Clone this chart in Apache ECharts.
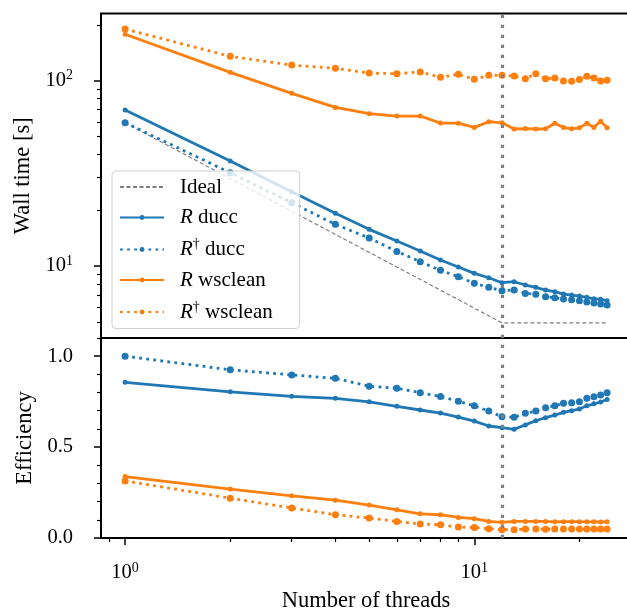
<!DOCTYPE html>
<html><head><meta charset="utf-8">
<script src="https://cdn.jsdelivr.net/npm/echarts@6/dist/echarts.min.js"></script>
<style>html,body{margin:0;padding:0;background:#fff}#c{width:627px;height:610px}</style>
</head><body><div id="c"></div>
<script>
// ---------- data ----------
const threads = [1,2,3,4,5,6,7,8,9,10,11,12,13,14,15,16,17,18,19,20,21,22,23,24];
const rDuccTime    = [69.5,36.9,25.2,19.25,15.78,13.64,12.05,10.78,9.88,9.13,8.65,8.13,8.23,7.90,7.68,7.42,7.27,7.06,6.97,6.89,6.78,6.66,6.61,6.50];
const rdagDuccTime = [59.3,31.9,21.96,16.79,14.16,12.0,10.55,9.48,8.76,8.07,7.68,7.36,7.42,7.12,7.04,6.83,6.75,6.64,6.58,6.50,6.40,6.32,6.24,6.16];
const rWscTime     = [178.1,111.0,85.5,71.8,66.4,64.5,64.5,59.1,59.0,56.0,60.1,59.3,54.9,55.2,54.9,55.0,59.0,56.0,55.0,55.7,59.0,56.0,60.4,55.7];
const rdagWscTime  = [190.1,135.4,121.5,116.7,110.0,109.1,111.4,104.3,108.3,101.8,106.9,106.9,106.0,102.5,109.1,102.5,103.4,99.6,99.4,101.4,105.6,103.4,99.6,100.5];
const idealThreads = [1,12,24];
const idealTime    = [59.3,4.94,4.94];
const rDuccEff     = [0.856,0.804,0.779,0.768,0.749,0.724,0.704,0.687,0.665,0.643,0.616,0.607,0.598,0.622,0.645,0.662,0.676,0.691,0.700,0.709,0.727,0.738,0.748,0.762];
const rdagDuccEff  = [1.0,0.925,0.897,0.878,0.835,0.824,0.799,0.778,0.752,0.727,0.698,0.667,0.664,0.686,0.698,0.716,0.727,0.741,0.744,0.749,0.768,0.777,0.786,0.799];
const rWscEff      = [0.338,0.269,0.232,0.208,0.181,0.155,0.133,0.128,0.113,0.106,0.091,0.086,0.091,0.091,0.091,0.091,0.089,0.090,0.090,0.090,0.089,0.089,0.088,0.089];
const rdagWscEff   = [0.314,0.219,0.165,0.128,0.110,0.091,0.077,0.073,0.060,0.058,0.051,0.046,0.046,0.049,0.049,0.048,0.049,0.049,0.049,0.049,0.049,0.049,0.049,0.049];
const physicalCores = 12;
const seriesNames = ['Ideal','R ducc','R\u2020 ducc','R wsclean','R\u2020 wsclean'];
const xMajorTicks = [1,10];
const xMinorTicks = [0.9,2,3,4,5,6,7,8,9,20];
const timeMajorTicks = [10,100];
const timeMinorTicks = [5,6,7,8,9,20,30,40,50,60,70,80,90,200];
const effMajorTicks = [0,0.5,1.0];
const effMinorTicks = [0.1,0.2,0.3,0.4,0.6,0.7,0.8,0.9,1.1];

// ---------- styles ----------
const FONT = "'Liberation Serif','DejaVu Serif',serif";
const BLUE = '#1f77b4', ORANGE = '#ff7f0e', GRAY = '#808080';
const LW = 2.8;
const DOT = [2.8, 4.3];
const pairs = (xs, ys) => xs.map((x, i) => [x, ys[i]]);
const powRich = {
  b: {fontFamily: FONT, fontSize: 20.5, lineHeight: 24, color: '#000'},
  s: {fontFamily: FONT, fontSize: 14, lineHeight: 14, verticalAlign: 'top', color: '#000'}
};
const powFmt = v => '{b|10}{s|' + Math.round(Math.log10(v)) + '}';
const vline = {
  silent: true, symbol: ['none','none'], label: {show: false},
  lineStyle: {color: GRAY, width: 3.2, type: [3.2, 6.8]},
  data: [{xAxis: physicalCores}]
};
function mkLine(name, data, color, dotted, xi, yi, extra) {
  return Object.assign({
    name, type: 'line', data, xAxisIndex: xi, yAxisIndex: yi,
    symbol: 'circle', symbolSize: dotted ? 7 : 5, showSymbol: true,
    itemStyle: {color},
    lineStyle: {color, width: LW, type: dotted ? DOT : 'solid'},
    emphasis: {disabled: true}, z: 3
  }, extra || {});
}
const noAxisBits = {axisLine: {show: false, onZero: false}, splitLine: {show: false}};

const chart = echarts.init(document.getElementById('c'), null, {renderer: 'canvas'});
chart.setOption({
  animation: false,
  backgroundColor: '#fff',
  textStyle: {fontFamily: FONT},
  grid: [
    {left: 101, top: 13.5, width: 530, height: 324.5, show: true, borderColor: '#000', borderWidth: 2, backgroundColor: 'transparent', outerBoundsMode: 'none'},
    {left: 101, top: 338, width: 530, height: 200, show: true, borderColor: '#000', borderWidth: 2, backgroundColor: 'transparent', outerBoundsMode: 'none'}
  ],
  xAxis: [
    Object.assign({gridIndex: 0, type: 'log', min: 0.853, max: 28.1, position: 'bottom',
      axisTick: {show: false}, axisLabel: {show: false}}, noAxisBits),
    Object.assign({gridIndex: 1, type: 'log', min: 0.853, max: 28.1, position: 'bottom',
      name: 'Number of threads', nameLocation: 'middle', nameGap: 52,
      nameTextStyle: {fontFamily: FONT, fontSize: 22.5, color: '#000'},
      axisTick: {show: true, customValues: xMajorTicks, length: 7, lineStyle: {color: '#000', width: 1.5}},
      axisLabel: {show: true, customValues: xMajorTicks, margin: 23, formatter: powFmt, rich: powRich}}, noAxisBits),
    Object.assign({gridIndex: 1, type: 'log', min: 0.853, max: 28.1, position: 'bottom',
      axisTick: {show: true, customValues: xMinorTicks, length: 4, lineStyle: {color: '#000', width: 1.2}},
      axisLabel: {show: false}}, noAxisBits)
  ],
  yAxis: [
    Object.assign({gridIndex: 0, type: 'log', min: 4.09, max: 230.6, position: 'left',
      name: 'Wall time [s]', nameLocation: 'middle', nameGap: 63, nameRotate: 90,
      nameTextStyle: {fontFamily: FONT, fontSize: 22.5, color: '#000'},
      axisTick: {show: true, customValues: timeMajorTicks, length: 7, lineStyle: {color: '#000', width: 1.5}},
      axisLabel: {show: true, customValues: timeMajorTicks, margin: 28, formatter: powFmt, rich: powRich}}, noAxisBits),
    Object.assign({gridIndex: 0, type: 'log', min: 4.09, max: 230.6, position: 'left',
      axisTick: {show: true, customValues: timeMinorTicks, length: 4, lineStyle: {color: '#000', width: 1.2}},
      axisLabel: {show: false}}, noAxisBits),
    Object.assign({gridIndex: 1, type: 'value', min: 0, max: 1.1, position: 'left',
      name: 'Efficiency', nameLocation: 'middle', nameGap: 63, nameRotate: 90,
      nameTextStyle: {fontFamily: FONT, fontSize: 22.5, color: '#000'},
      axisTick: {show: true, customValues: effMajorTicks, length: 7, lineStyle: {color: '#000', width: 1.5}},
      axisLabel: {show: true, customValues: effMajorTicks, margin: 28, formatter: v => v.toFixed(1),
        fontFamily: FONT, fontSize: 20.5, color: '#000'}}, noAxisBits),
    Object.assign({gridIndex: 1, type: 'value', min: 0, max: 1.1, position: 'left',
      axisTick: {show: true, customValues: effMinorTicks, length: 4, lineStyle: {color: '#000', width: 1.2}},
      axisLabel: {show: false}}, noAxisBits)
  ],
  legend: {
    data: [
      {name: seriesNames[0], itemStyle: {color: 'rgba(0,0,0,0)', opacity: 0}},
      seriesNames[1], seriesNames[2], seriesNames[3], seriesNames[4]
    ],
    orient: 'vertical', left: 112, top: 171,
    itemWidth: 44, itemHeight: 6, itemGap: 9.5,
    padding: [5.5, 27, 6, 7],
    backgroundColor: 'rgba(255,255,255,0.8)', borderColor: '#d0d0d0', borderWidth: 1, borderRadius: 4,
    selectedMode: false,
    formatter: name => {
      if (name === 'Ideal') return '{t|Ideal}';
      const dag = name.indexOf('\u2020') >= 0;
      const rest = name.split(' ')[1];
      return '{i|R}' + (dag ? '{s|\u2020}' : '') + '{t| ' + rest + '}';
    },
    textStyle: {
      fontFamily: FONT, fontSize: 21, color: '#000', padding: [0, 0, 0, 11],
      rich: {
        t: {fontFamily: FONT, fontSize: 21, lineHeight: 24, color: '#000'},
        i: {fontFamily: FONT, fontSize: 21, lineHeight: 24, fontStyle: 'italic', color: '#000'},
        s: {fontFamily: FONT, fontSize: 14, lineHeight: 14, verticalAlign: 'top', color: '#000'}
      }
    }
  },
  series: [
    {name: 'Ideal', type: 'line', data: pairs(idealThreads, idealTime), xAxisIndex: 0, yAxisIndex: 0,
      symbol: 'none', lineStyle: {color: GRAY, width: 1.2, type: [4, 2.5]}, itemStyle: {color: GRAY},
      emphasis: {disabled: true}, z: 2, markLine: vline},
    mkLine('R ducc', pairs(threads, rDuccTime), BLUE, false, 0, 0),
    mkLine('R\u2020 ducc', pairs(threads, rdagDuccTime), BLUE, true, 0, 0),
    mkLine('R wsclean', pairs(threads, rWscTime), ORANGE, false, 0, 0),
    mkLine('R\u2020 wsclean', pairs(threads, rdagWscTime), ORANGE, true, 0, 0),
    mkLine('R ducc', pairs(threads, rDuccEff), BLUE, false, 1, 2, {markLine: vline}),
    mkLine('R\u2020 ducc', pairs(threads, rdagDuccEff), BLUE, true, 1, 2),
    mkLine('R wsclean', pairs(threads, rWscEff), ORANGE, false, 1, 2),
    mkLine('R\u2020 wsclean', pairs(threads, rdagWscEff), ORANGE, true, 1, 2)
  ]
});
</script>
</body></html>
